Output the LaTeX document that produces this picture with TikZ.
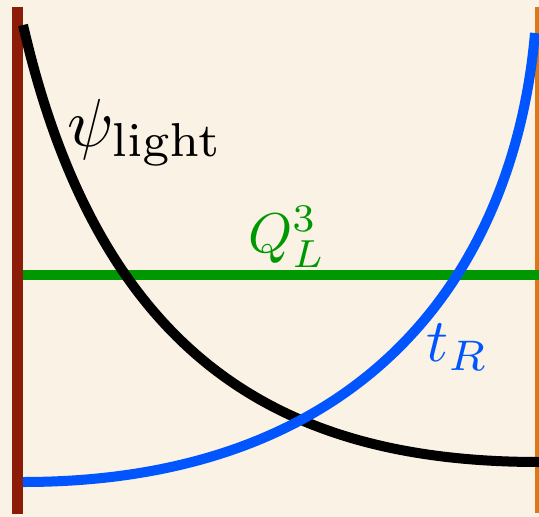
\documentclass[tikz,border=0pt]{standalone}
\definecolor{bgcream}{RGB}{249,242,229}
\definecolor{barred}{RGB}{140,28,8}
\definecolor{barorange}{RGB}{222,120,20}
\definecolor{lgreen}{RGB}{0,152,0}
\definecolor{lblue}{RGB}{0,85,255}
\tikzset{
  curve/.style={line width=10pt, line cap=butt},
  lab/.style={inner sep=0pt, anchor=base west}
}
\begin{document}
\begin{tikzpicture}[x=1pt,y=-1pt]
\useasboundingbox (0,0) rectangle (539,517);
\fill[bgcream] (0,0) rectangle (539,517);
% bars
\fill[barred] (12,7) rectangle (23,514);
\fill[barorange] (535,7) rectangle (539,513);
% green line
\coordinate (gL) at (23,275);
\coordinate (gR) at (539,275);
\draw[curve, lgreen] (gL) -- (gR);
% black curve
\coordinate (bS) at (23,25);
\coordinate (bE) at (539,462);
\draw[curve, black] (bS) .. controls (101,365) and (289,462) .. (bE);
% blue curve
\coordinate (uS) at (23,482);
\coordinate (uE) at (535,33);
\draw[curve, lblue] (uS) .. controls (373,482) and (515,263) .. (uE);
% labels
\node[lab, scale=6.8] (psi) at (66,146) {$\psi_{\mathrm{light}}$};
\node[lab, scale=5.6, text=lgreen] (q) at (247,252) {$Q_L^3$};
\node[lab, scale=6.1, text=lblue] (t) at (425,361) {$t_R$};
\end{tikzpicture}
\end{document}
